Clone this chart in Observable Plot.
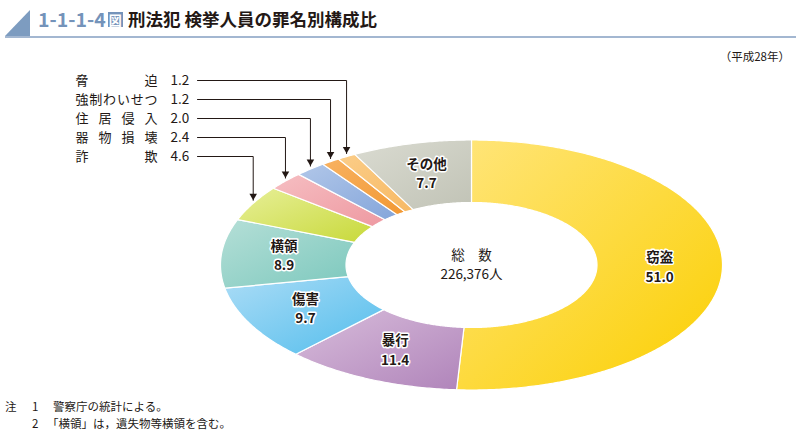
<!DOCTYPE html>
<html><head><meta charset="utf-8">
<script src="https://cdn.jsdelivr.net/npm/d3@7"></script>
<script src="https://cdn.jsdelivr.net/npm/@observablehq/plot@0.6"></script>
<style>
body{margin:0;width:796px;height:432px;background:#fff;font-family:"Noto Sans CJK JP","Noto Sans",sans-serif;color:#231815;overflow:hidden;position:relative}
#tri{position:absolute;left:5px;top:10px;width:0;height:0;border-left:25px solid transparent;border-bottom:26px solid #7d9cc0}
#rule{position:absolute;left:5px;top:36px;width:791px;height:2px;background:#a3b7d1}
#num{position:absolute;left:38px;top:5px;font-size:19.5px;font-weight:bold;color:#7493ba;line-height:28px;white-space:nowrap}
#num .fig{display:inline-block;font-size:13px;line-height:15px;background:#7493ba;color:#fff;padding:0 1px;margin-left:2px;vertical-align:2px}
#ttl{position:absolute;left:128px;top:5px;font-size:17.5px;font-weight:bold;color:#231815;line-height:28px;white-space:nowrap}
#year{position:absolute;right:6px;top:48px;font-size:11.5px;line-height:16px}
#chart{position:absolute;left:0;top:40px}
#notes{position:absolute;left:0;top:398px;font-size:11.5px;line-height:17px;width:796px}
#notes div{position:relative;height:17px}
#notes span{position:absolute;top:0;white-space:nowrap}
</style></head>
<body>
<div id="tri"></div><div id="rule"></div>
<div id="num">1-1-1-4<span class="fig">図</span></div>
<div id="ttl">刑法犯 検挙人員の罪名別構成比</div>
<div id="year">（平成28年）</div>
<div id="chart"></div>
<div id="notes">
  <div><span style="left:5px">注</span><span style="left:32px">1</span><span style="left:53px">警察庁の統計による。</span></div>
  <div><span style="left:32px">2</span><span style="left:47px">「横領」は，遺失物等横領を含む。</span></div>
</div>
<script>
// ---- data ----
const categories = ["窃盗","暴行","傷害","横領","詐欺","器物損壊","住居侵入","強制わいせつ","脅迫","その他"];
const shares = [51.0, 11.4, 9.7, 8.9, 4.6, 2.4, 2.0, 1.2, 1.2, 7.7];
const totalLabel = ["総　数", "226,376人"];
const insideLabels = ["窃盗","暴行","傷害","横領","その他"];
const calloutLabels = ["脅迫","強制わいせつ","住居侵入","器物損壊","詐欺"];

// ---- palette (light -> dark) ----
const lightColors = ["#ffe57a","#d8bddb","#abdcf6","#b5dfd7","#e7ef98","#f6bec2","#b1c7e9","#f8b261","#fbcd88","#dadbd1"];
const darkColors  = ["#fbcf00","#b084ba","#52bdec","#7cc8bd","#c8d93a","#ee99a1","#84a5da","#f29833","#f7b964","#c1c3b6"];

// ---- layout ----
const W = 796, H = 358, CX = 471, CY = 224.5, RX = 251, RY = 125, INNER = 0.5;
const px2x = p => (p - CX) / RX, py2y = p => (CY - p) / RY;

const pie = d3.pie().sort(null).value(d => d)(shares);
const arcs = categories.map((k, i) => {
  const a0 = pie[i].startAngle, a1 = pie[i].endAngle;
  return {k, v: shares[i], a0, a1, am: (a0 + a1) / 2};
});

const poly = [];
for (const a of arcs) {
  const n = Math.max(4, Math.ceil((a.a1 - a.a0) / 0.01));
  for (let j = 0; j <= n; j++) { const t = a.a0 + (a.a1 - a.a0) * j / n; poly.push({k: a.k, x: Math.sin(t), y: Math.cos(t)}); }
  for (let j = n; j >= 0; j--) { const t = a.a0 + (a.a1 - a.a0) * j / n; poly.push({k: a.k, x: INNER * Math.sin(t), y: INNER * Math.cos(t)}); }
}

const midR = (1 + INNER) / 2;
const inside = arcs.filter(a => insideLabels.includes(a.k)).map(a => ({
  x: midR * Math.sin(a.am), y: midR * Math.cos(a.am), name: a.k, value: a.v.toFixed(1)
}));

const rowTop = 40, rowStep = 19;
const callouts = calloutLabels.map((k, i) => {
  const a = arcs.find(d => d.k === k);
  const ex = Math.sin(a.am), ey = Math.cos(a.am);
  return {k, v: a.v.toFixed(1), y: py2y(rowTop + i * rowStep), ex, tipY: ey + 3 / RY};
});
const leaders = callouts.flatMap(c => [
  {k: c.k, x: px2x(197), y: c.y},
  {k: c.k, x: c.ex, y: c.y},
  {k: c.k, x: c.ex, y: c.tipY}
]);

const labelStyle = {fontSize: 13.5, fontWeight: "bold", fill: "#231815", stroke: "white", strokeWidth: 3};
const plot = Plot.plot({
  width: W, height: H, margin: 0,
  x: {domain: [-1, 1], range: [CX - RX, CX + RX], axis: null},
  y: {domain: [-1, 1], range: [CY + RY, CY - RY], axis: null},
  color: {type: "ordinal", domain: categories, range: categories.map((_, i) => `url(#g${i})`)},
  style: {fontFamily: '"Noto Sans CJK JP","Noto Sans",sans-serif', background: "transparent", color: "#231815", overflow: "visible"},
  marks: [
    Plot.line(poly, {x: "x", y: "y", z: "k", fill: "k", stroke: "white", strokeWidth: 1.2, curve: "linear-closed"}),
    Plot.text(inside, {x: "x", y: "y", text: "name", dy: -9.8, ...labelStyle}),
    Plot.text(inside, {x: "x", y: "y", text: "value", dy: 9.8, ...labelStyle}),
    Plot.text([{x: 0, y: 0, text: totalLabel[0]}], {x: "x", y: "y", text: "text", dy: -9.8, fontSize: 13.5, fill: "#231815"}),
    Plot.text([{x: 0, y: 0, text: totalLabel[1]}], {x: "x", y: "y", text: "text", dy: 9.8, fontSize: 13.5, fill: "#231815"}),
    Plot.line(leaders, {x: "x", y: "y", z: "k", stroke: "#231815", strokeWidth: 1}),
    Plot.dot(callouts, {x: "ex", y: "tipY", symbol: "triangle", r: 2.8, rotate: 180, dy: -4.4, fill: "#231815", stroke: null}),
    Plot.text(callouts, {x: () => px2x(75), y: "y", text: "k", textAnchor: "start", fontSize: 13, fill: "#231815", className: "callname"}),
    Plot.text(callouts, {x: () => px2x(170), y: "y", text: "v", textAnchor: "start", fontSize: 13.5, fill: "#231815"})
  ]
});

// gradients
const ns = "http://www.w3.org/2000/svg";
const defs = document.createElementNS(ns, "defs");
categories.forEach((_, i) => {
  const g = document.createElementNS(ns, "linearGradient");
  g.setAttribute("id", `g${i}`);
  g.setAttribute("x1", "0"); g.setAttribute("y1", "0"); g.setAttribute("x2", "1"); g.setAttribute("y2", "1");
  [[0, lightColors[i]], [1, darkColors[i]]].forEach(([o, c]) => {
    const s = document.createElementNS(ns, "stop");
    s.setAttribute("offset", o); s.setAttribute("stop-color", c);
    g.appendChild(s);
  });
  defs.appendChild(g);
});
plot.insertBefore(defs, plot.firstChild);
plot.querySelectorAll(".callname text").forEach(t => {
  t.setAttribute("textLength", "82");
  t.setAttribute("lengthAdjust", "spacing");
});
document.getElementById("chart").appendChild(plot);
</script>
</body></html>
